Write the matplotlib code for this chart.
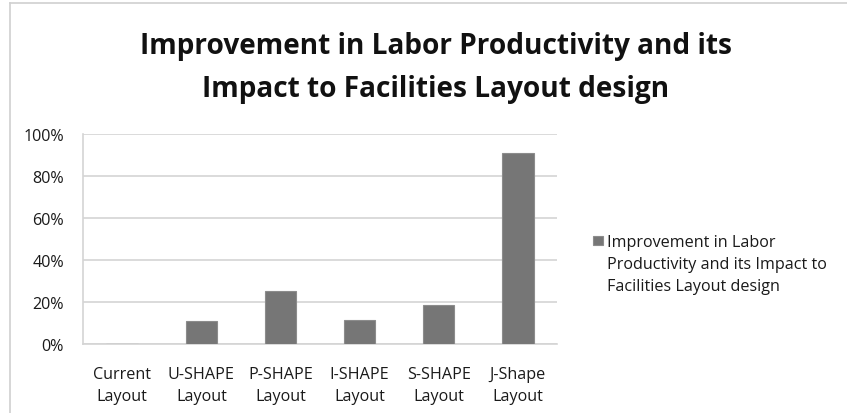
import matplotlib
matplotlib.use("Agg")
import matplotlib.pyplot as plt
from matplotlib.ticker import FuncFormatter, MultipleLocator
from matplotlib.patches import Rectangle
from matplotlib.lines import Line2D

categories = ["Current\nLayout", "U-SHAPE\nLayout", "P-SHAPE\nLayout",
              "I-SHAPE\nLayout", "S-SHAPE\nLayout", "J-Shape\nLayout"]
values = [0.0, 0.108, 0.254, 0.113, 0.186, 0.911]
series_name = "Improvement in Labor\nProductivity and its Impact to\nFacilities Layout design"
title = "Improvement in Labor Productivity and its\nImpact to Facilities Layout design"

plt.rcParams['font.family'] = ['Open Sans', 'DejaVu Sans']

W, H = 847, 414
fig = plt.figure(figsize=(W / 100, H / 100), dpi=100)
fig.patch.set_facecolor("white")

# chart-area border (top & left visible)
fig.add_artist(Line2D([10 / W, 1.0], [1 - 4 / H, 1 - 4 / H], transform=fig.transFigure,
                      color="#d0d0d0", lw=1.2))
fig.add_artist(Line2D([10 / W, 10 / W], [0.0, 1 - 4 / H], transform=fig.transFigure,
                      color="#d0d0d0", lw=1.2))

left, right = 82.7 / W, 557.3 / W
bottom, top = 1 - 345 / H, 1 - 135 / H
ax = fig.add_axes([left, bottom, right - left, top - bottom])

x = list(range(len(categories)))
bars = ax.bar(x, values, width=0.4, color="#767676", edgecolor="#8c8c8c", linewidth=0.8,
              zorder=3, label=series_name)

ax.set_xlim(-0.5, len(categories) - 0.5)
ax.set_ylim(0, 1.0)
ax.yaxis.set_major_locator(MultipleLocator(0.2))
ax.yaxis.set_major_formatter(FuncFormatter(lambda v, p: f"{v * 100:.0f}%"))
ax.grid(axis="y", color="#d4d4d4", linewidth=1.2, zorder=0)
ax.set_xticks(x)
ax.set_xticklabels(categories, fontsize=11.6, color="#1a1a1a", linespacing=1.5)
ax.tick_params(axis="x", length=0, pad=15.5)
ax.tick_params(axis="y", length=0, pad=13.5, labelsize=11.6, labelcolor="#1a1a1a")
for s in ["top", "right"]:
    ax.spines[s].set_visible(False)
ax.spines["left"].set_color("#d4d4d4")
ax.spines["left"].set_linewidth(1.2)
ax.spines["bottom"].set_color("#d4d4d4")
ax.spines["bottom"].set_linewidth(1.2)

fig.text(436 / W, 1 - 68 / H, title, ha="center", va="center", fontsize=20.2,
         fontweight="bold", color="#111111", linespacing=1.6)

# legend: square marker aligned with the first text line
fig.add_artist(Rectangle((593 / W, 1 - 246 / H), 10 / W, 9 / H, transform=fig.transFigure,
                         facecolor="#767676", edgecolor="#8c8c8c", lw=0.8))
fig.text(607 / W, 1 - 235 / H, series_name, ha="left", va="top", fontsize=11.6,
         color="#1a1a1a", linespacing=1.52)

fig.savefig("out.png", dpi=100)
